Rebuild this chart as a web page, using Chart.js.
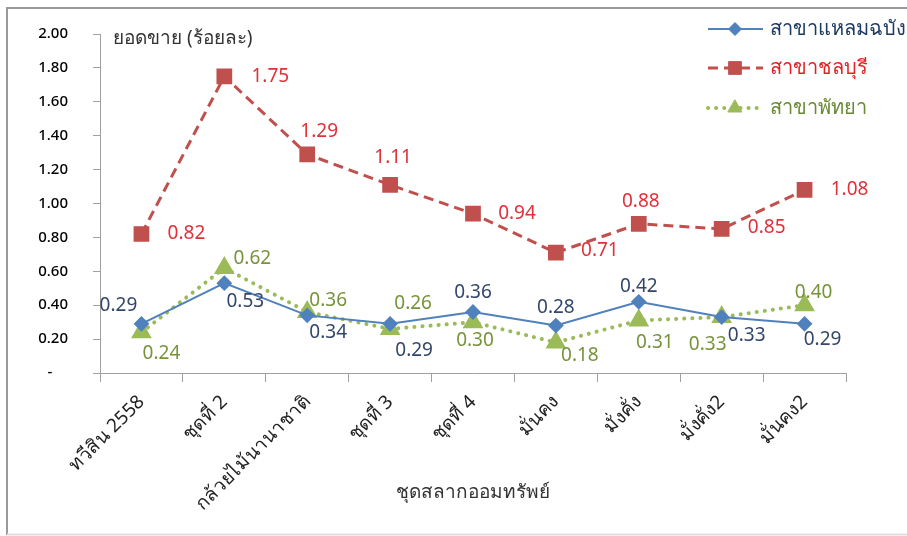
<!DOCTYPE html>
<html>
<head>
<meta charset="utf-8">
<script src="https://cdn.jsdelivr.net/npm/chart.js@4.4.0/dist/chart.umd.min.js"></script>
<style>
  html, body { margin: 0; padding: 0; background: #fff; }
  #wrap { position: relative; width: 907px; height: 536px; }
</style>
</head>
<body>
<div id="wrap"><canvas id="chart" width="907" height="536"></canvas></div>
<script>
const categories = ['ทวีสิน 2558', 'ชุดที่ 2', 'กล้วยไม้นานาชาติ', 'ชุดที่ 3', 'ชุดที่ 4', 'มั่นคง', 'มั่งคั่ง', 'มั่งคั่ง2', 'มั่นคง2'];
const laemChabang = [0.29, 0.53, 0.34, 0.29, 0.36, 0.28, 0.42, 0.33, 0.29];
const chonburi = [0.82, 1.75, 1.29, 1.11, 0.94, 0.71, 0.88, 0.85, 1.08];
const pattaya = [0.24, 0.62, 0.36, 0.26, 0.30, 0.18, 0.31, 0.33, 0.40];
const yTicks = [0, 0.2, 0.4, 0.6, 0.8, 1.0, 1.2, 1.4, 1.6, 1.8, 2.0];
const seriesNames = ['สาขาแหลมฉบัง', 'สาขาชลบุรี', 'สาขาพัทยา'];
const yTitle = 'ยอดขาย (ร้อยละ)';
const xTitle = 'ชุดสลากออมทรัพย์';

// label offsets from each point (dx, dy), as placed in the original
const labelOffsets = [
  [[-23, -18], [21, 18], [21, 17], [24, 27], [0, -19], [0, -18], [0, -15], [25, 19], [18, 16]],
  [[45, 0], [46, 0], [12, -23], [3, -27], [44, 0], [44, -2], [2, -22], [45, -1], [45, 0]],
  [[20, 21], [28, -9], [21, -11], [23, -25], [2, 18], [24, 13], [16, 22], [-14, 28], [9, -13]],
];
const labelColors = ['#34476a', '#e0313a', '#77933c'];
const legendColors = ['#1f3a60', '#e02424', '#6a8a35'];

const FONT = '"Noto Sans", "DejaVu Sans", sans-serif';

const framePlugin = {
  id: 'frame',
  beforeDraw(chart) {
    const { ctx } = chart;
    ctx.save();
    ctx.strokeStyle = '#9a9a9a';
    ctx.lineWidth = 2;
    ctx.beginPath();
    ctx.moveTo(7, 535);
    ctx.lineTo(7, 8);
    ctx.lineTo(907, 8);
    ctx.stroke();
    ctx.strokeStyle = '#dedede';
    ctx.beginPath();
    ctx.moveTo(7, 534.5);
    ctx.lineTo(907, 534.5);
    ctx.stroke();
    ctx.restore();
  },
};

const yTitlePlugin = {
  id: 'yTitle',
  afterDraw(chart) {
    const { ctx, chartArea } = chart;
    ctx.save();
    ctx.font = `19px ${FONT}`;
    ctx.fillStyle = '#333';
    ctx.textAlign = 'left';
    ctx.textBaseline = 'middle';
    ctx.fillText(yTitle, chartArea.left + 13, chartArea.top + 5);
    ctx.restore();
  },
};

const dataLabelPlugin = {
  id: 'dataLabels',
  afterDatasetsDraw(chart) {
    const { ctx } = chart;
    ctx.save();
    ctx.font = `19px ${FONT}`;
    ctx.textAlign = 'center';
    ctx.textBaseline = 'middle';
    chart.data.datasets.forEach((ds, i) => {
      const meta = chart.getDatasetMeta(i);
      ctx.fillStyle = labelColors[i];
      meta.data.forEach((pt, j) => {
        const [dx, dy] = labelOffsets[i][j];
        ctx.fillText(ds.data[j].toFixed(2), pt.x + dx, pt.y + dy);
      });
    });
    ctx.restore();
  },
};

const legendPlugin = {
  id: 'sideLegend',
  afterDraw(chart) {
    const { ctx } = chart;
    const rows = [29, 68, 108];
    ctx.save();
    chart.data.datasets.forEach((ds, i) => {
      const y = rows[i];
      ctx.strokeStyle = ds.borderColor;
      ctx.lineWidth = ds.borderWidth;
      ctx.lineCap = ds.borderCapStyle || 'butt';
      ctx.setLineDash(ds.borderDash || []);
      ctx.beginPath();
      ctx.moveTo(708, y);
      ctx.lineTo(763, y);
      ctx.stroke();
      ctx.setLineDash([]);
      ctx.fillStyle = ds.pointBackgroundColor;
      ctx.strokeStyle = ds.pointBorderColor;
      ctx.lineWidth = 1;
      Chart.helpers.drawPoint(ctx, { pointStyle: ds.pointStyle, radius: ds.pointRadius, rotation: 0, borderWidth: 1 }, 735, y);
      ctx.font = `500 20px ${FONT}`;
      ctx.fillStyle = legendColors[i];
      ctx.textAlign = 'left';
      ctx.textBaseline = 'middle';
      ctx.fillText(seriesNames[i], 770, y);
    });
    ctx.restore();
  },
};

new Chart(document.getElementById('chart'), {
  type: 'line',
  data: {
    labels: categories,
    datasets: [
      {
        label: seriesNames[0],
        data: laemChabang,
        borderColor: '#4f81bd',
        borderWidth: 2,
        pointStyle: 'rectRot',
        pointRadius: 6.5,
        pointBackgroundColor: '#4f81bd',
        pointBorderColor: '#4f81bd',
        tension: 0,
      },
      {
        label: seriesNames[1],
        data: chonburi,
        borderColor: '#c0504d',
        borderWidth: 3,
        borderDash: [10, 6],
        pointStyle: 'rect',
        pointRadius: 9,
        pointBackgroundColor: '#c0504d',
        pointBorderColor: '#c0504d',
        tension: 0,
      },
      {
        label: seriesNames[2],
        data: pattaya,
        borderColor: '#9bbb59',
        borderWidth: 4,
        borderDash: [0.1, 8],
        borderCapStyle: 'round',
        pointStyle: 'triangle',
        pointRadius: 8,
        pointBackgroundColor: '#9bbb59',
        pointBorderColor: '#9bbb59',
        tension: 0,
      },
    ],
  },
  options: {
    responsive: false,
    animation: false,
    layout: { padding: { top: 33, right: 61, left: 0, bottom: 0 } },
    plugins: {
      legend: { display: false },
      tooltip: { enabled: false },
    },
    scales: {
      x: {
        offset: true,
        grid: { offset: true, drawOnChartArea: false, tickLength: 9, color: '#a0a0a0' },
        border: { color: '#a0a0a0' },
        ticks: {
          minRotation: 45,
          maxRotation: 45,
          padding: 9,
          color: '#222',
          font: { family: FONT, size: 19 },
        },
        title: {
          display: true,
          text: xTitle,
          color: '#333',
          font: { family: FONT, size: 19 },
          padding: { top: 0, bottom: 32 },
        },
        afterFit(scale) { scale.height = 163; },
      },
      y: {
        min: 0,
        max: 2,
        grid: { drawOnChartArea: false, tickLength: 7, color: '#a0a0a0' },
        border: { color: '#a0a0a0' },
        afterBuildTicks(scale) { scale.ticks = yTicks.map((v) => ({ value: v })); },
        ticks: {
          padding: 25,
          color: '#000',
          font: { family: FONT, size: 15, weight: '500' },
          callback: (v) => (v === 0 ? '-    ' : v.toFixed(2)),
        },
        afterFit(scale) { scale.width = 100; },
      },
    },
  },
  plugins: [framePlugin, yTitlePlugin, dataLabelPlugin, legendPlugin],
});
</script>
</body>
</html>
